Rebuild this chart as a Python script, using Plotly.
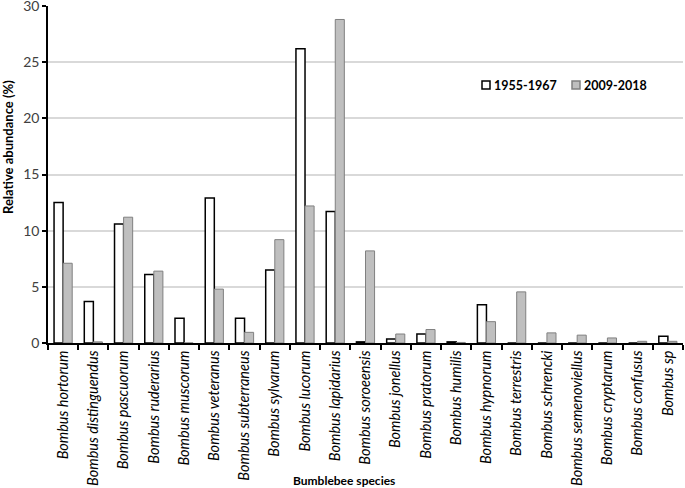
import plotly.graph_objects as go

species = ["Bombus hortorum", "Bombus distinguendus", "Bombus pascuorum", "Bombus ruderarius",
           "Bombus muscorum", "Bombus veteranus", "Bombus subterraneus", "Bombus sylvarum",
           "Bombus lucorum", "Bombus lapidarius", "Bombus soroeensis", "Bombus jonellus",
           "Bombus pratorum", "Bombus humilis", "Bombus hypnorum", "Bombus terrestris",
           "Bombus schrencki", "Bombus semenoviellus", "Bombus cryptarum", "Bombus confusus",
           "Bombus sp"]
period1 = [12.5, 3.7, 10.6, 6.1, 2.2, 12.9, 2.2, 6.5, 26.2, 11.7, 0.1, 0.35,
           0.8, 0.1, 3.4, 0.0, 0.0, 0.0, 0.0, 0.0, 0.6]
period2 = [7.1, 0.1, 11.2, 6.4, 0.0, 4.8, 0.95, 9.2, 12.2, 28.8, 8.2, 0.8,
           1.2, 0.05, 1.9, 4.55, 0.9, 0.7, 0.45, 0.15, 0.15]
series_names = ["1955-1967", "2009-2018"]
y_ticks = [0, 5, 10, 15, 20, 25, 30]

FONT = "Lato"
W, H = 685, 488
ML, MR, MT, MB = 48, 2, 6, 145
PW, PH = W - ML - MR, H - MT - MB


def px_x(px):
    return (px - ML) / PW


def px_y(py):
    return (H - MB - py) / PH


styles = [dict(color="white", line=dict(color="black", width=1.5)),
          dict(color="#bfbfbf", line=dict(color="#808080", width=1))]

fig = go.Figure()
fig.add_trace(go.Bar(x=species, y=period1, name=series_names[0], marker=styles[0], showlegend=False))
fig.add_trace(go.Bar(x=species, y=period2, name=series_names[1], marker=styles[1], showlegend=False))

# manual legend (symbol squares + bold labels)
legend_sq = [(482, 490), (572, 580)]
for (x0, x1), name, st in zip(legend_sq, series_names, styles):
    fig.add_shape(type="rect", xref="paper", yref="paper",
                  x0=px_x(x0), x1=px_x(x1), y0=px_y(89), y1=px_y(81),
                  fillcolor=st["color"], line=dict(color=st["line"]["color"], width=1.5))
    fig.add_annotation(xref="paper", yref="paper", x=px_x(x1 + 2), y=px_y(85),
                       xanchor="left", yanchor="middle", showarrow=False, text=name,
                       font=dict(family=FONT, size=12.5, color="black", weight="bold"))

# axis titles
fig.add_annotation(xref="paper", yref="paper", x=px_x(8), y=px_y(147), textangle=-90,
                   xanchor="center", yanchor="middle", showarrow=False,
                   text="Relative abundance (%)",
                   font=dict(family=FONT, size=13, color="black", weight="bold"))
fig.add_annotation(xref="paper", yref="paper", x=px_x(344), y=px_y(480),
                   xanchor="center", yanchor="middle", showarrow=False,
                   text="Bumblebee species",
                   font=dict(family=FONT, size=12, color="black", weight="bold"))

fig.update_layout(
    width=W, height=H,
    margin=dict(l=ML, r=MR, t=MT, b=MB, autoexpand=False),
    plot_bgcolor="white", paper_bgcolor="white",
    barmode="group", bargap=0.4, bargroupgap=0,
    font=dict(family=FONT, color="black"),
    showlegend=False,
)
fig.update_xaxes(
    type="category", tickson="boundaries", ticks="outside", ticklen=5, tickwidth=1.5,
    tickcolor="black", showline=True, linecolor="black", linewidth=1.5,
    tickangle=-90, tickfont=dict(family=FONT, size=14.5, style="italic", color="black"),
    showgrid=False, automargin=False,
)
fig.update_yaxes(
    range=[0, 30], tickvals=y_ticks, ticks="outside", ticklen=4, tickwidth=1.5,
    tickcolor="black", showline=True, linecolor="black", linewidth=1.5,
    showgrid=True, gridcolor="#d9d9d9", gridwidth=1.5, zeroline=False,
    tickfont=dict(family=FONT, size=14, color="#404040"),
    automargin=False, ticklabeloverflow="allow",
)

fig.write_html("out.html", config={"displayModeBar": False},
               post_script="document.body.style.margin='0';document.body.style.overflow='hidden';")
